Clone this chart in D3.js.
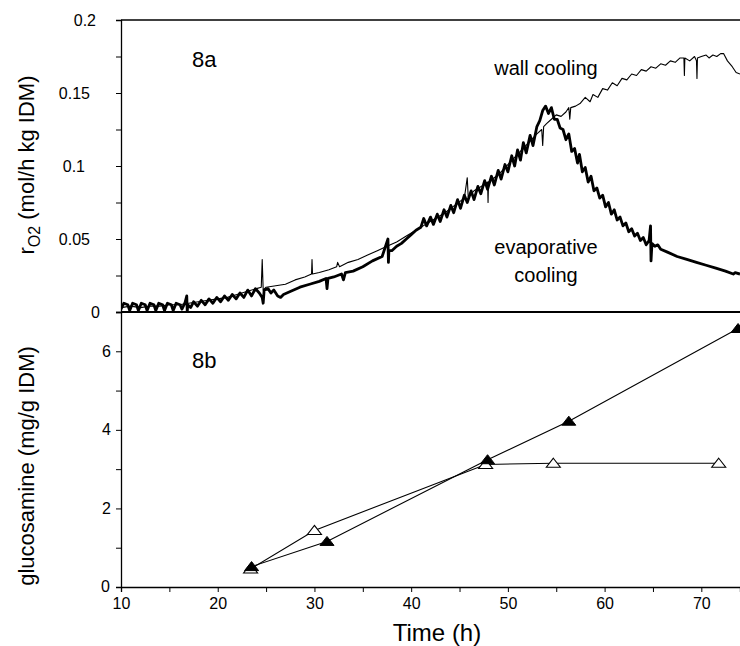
<!DOCTYPE html>
<html lang="en">
<head>
<meta charset="UTF-8">
<script src="https://cdnjs.cloudflare.com/ajax/libs/d3/7.8.5/d3.min.js"></script>
<title>rO2 and glucosamine</title>
<style>
  body { margin: 0; background: #fff; }
  svg text { font-family: Arial, "Liberation Sans", sans-serif; fill: #000; }
</style>
</head>
<body>
<div id="container"></div>
<script>
// ---------- data ----------
// oxygen uptake rate, evaporative cooling (thick line)
const evapTime = [10.0,10.3,10.7,10.9,11.2,11.6,11.8,12.1,12.5,12.7,13.0,13.4,13.6,13.9,14.3,14.5,14.8,15.2,15.4,15.7,16.1,16.3,16.6,16.8,16.85,16.9,17.2,17.5,17.9,18.3,18.7,19.1,19.5,19.9,20.3,20.7,21.1,21.5,21.9,22.3,22.7,23.1,23.5,23.9,24.3,24.6,24.7,24.8,25.2,25.5,25.8,26.2,26.5,26.8,27.5,28.5,29.5,30.5,31.2,31.3,31.4,32.0,32.8,33.0,33.2,34.0,35.0,36.0,37.0,37.6,37.65,37.7,38.0,38.5,39.0,39.5,40.0,40.5,41.0,41.3,41.6,42.0,42.3,42.7,43.0,43.4,43.7,44.1,44.4,44.8,45.1,45.5,45.8,46.2,46.5,46.9,47.2,47.6,47.9,48.3,48.6,49.0,49.3,49.7,50.0,50.4,50.7,51.0,51.3,51.6,51.9,52.3,52.6,53.0,53.3,53.6,53.9,54.2,54.5,54.8,55.1,55.4,55.7,56.0,56.3,56.6,56.9,57.2,57.4,57.7,58.0,58.3,58.6,58.9,59.2,59.5,59.8,60.1,60.4,60.7,61.0,61.3,61.6,61.9,62.2,62.5,62.8,63.1,63.4,63.7,64.0,64.3,64.6,64.75,64.8,64.9,65.2,65.5,65.8,66.5,67.5,68.5,69.5,70.5,71.5,72.5,73.3,73.5,74.0];
const evapRate = [0.002,0.006,0.005,0.001,0.006,0.005,0.001,0.006,0.005,0.001,0.006,0.005,0.001,0.006,0.005,0.001,0.006,0.005,0.001,0.006,0.005,0.002,0.006,0.011,0.000,0.005,0.003,0.007,0.004,0.008,0.005,0.009,0.006,0.010,0.007,0.011,0.008,0.012,0.009,0.013,0.010,0.015,0.011,0.016,0.013,0.010,0.006,0.015,0.016,0.013,0.015,0.011,0.010,0.012,0.014,0.017,0.019,0.021,0.023,0.016,0.023,0.024,0.026,0.022,0.027,0.028,0.031,0.035,0.038,0.050,0.034,0.042,0.042,0.045,0.047,0.050,0.053,0.056,0.058,0.064,0.059,0.065,0.060,0.067,0.062,0.070,0.065,0.073,0.068,0.077,0.071,0.080,0.075,0.083,0.077,0.086,0.081,0.090,0.084,0.093,0.087,0.097,0.091,0.101,0.096,0.107,0.100,0.111,0.104,0.116,0.109,0.121,0.114,0.127,0.131,0.138,0.141,0.136,0.140,0.132,0.132,0.126,0.125,0.118,0.122,0.110,0.112,0.102,0.108,0.096,0.099,0.089,0.093,0.083,0.085,0.078,0.080,0.072,0.075,0.067,0.070,0.063,0.065,0.059,0.061,0.055,0.057,0.052,0.054,0.049,0.051,0.046,0.049,0.059,0.035,0.047,0.045,0.046,0.043,0.041,0.038,0.036,0.034,0.032,0.030,0.028,0.026,0.027,0.026];

// oxygen uptake rate, wall cooling (thin line)
const wallTime = [10.0,11.0,12.0,13.0,14.0,15.0,16.0,17.0,18.0,19.0,20.0,21.0,22.0,23.0,24.0,24.5,24.6,24.7,25.0,26.0,27.0,28.0,29.0,29.7,29.75,29.8,30.5,31.5,32.3,32.4,32.6,33.5,34.5,35.5,36.5,37.5,38.5,39.5,40.5,41.5,42.5,43.5,44.5,45.5,45.8,45.9,46.5,47.5,47.9,47.95,48.0,49.0,50.0,51.0,52.0,53.0,53.5,53.6,53.7,54.0,54.5,55.0,55.5,56.0,56.3,56.4,56.5,57.0,57.5,58.0,58.5,58.8,59.3,59.8,60.3,60.8,61.3,61.8,62.3,62.8,63.3,63.8,64.3,64.8,65.3,65.8,66.3,66.8,67.3,67.8,68.2,68.25,68.3,68.8,69.3,69.5,69.55,69.6,70.0,70.5,70.8,71.2,71.6,72.0,72.3,72.7,73.2,73.6,74.0];
const wallRate = [0.003,0.004,0.003,0.004,0.004,0.005,0.005,0.006,0.007,0.008,0.009,0.010,0.012,0.014,0.016,0.017,0.036,0.015,0.017,0.018,0.019,0.022,0.024,0.026,0.036,0.026,0.027,0.029,0.031,0.034,0.031,0.034,0.036,0.039,0.042,0.045,0.048,0.052,0.056,0.060,0.064,0.068,0.073,0.078,0.092,0.079,0.083,0.087,0.089,0.075,0.089,0.094,0.101,0.108,0.115,0.122,0.125,0.114,0.127,0.129,0.132,0.135,0.134,0.137,0.140,0.132,0.140,0.141,0.143,0.147,0.144,0.149,0.147,0.153,0.152,0.157,0.155,0.160,0.159,0.163,0.162,0.166,0.165,0.168,0.167,0.170,0.169,0.172,0.171,0.174,0.174,0.162,0.174,0.172,0.175,0.172,0.160,0.174,0.175,0.176,0.174,0.176,0.175,0.177,0.177,0.172,0.168,0.164,0.163];

// glucosamine, evaporative cooling (filled triangles)
const glcEvapTime = [23.5, 31.3, 47.9, 56.3, 73.8];
const glcEvapVal  = [0.52, 1.16, 3.24, 4.22, 6.58];
// glucosamine, wall cooling (open triangles)
const glcWallTime = [23.4, 30.0, 47.7, 54.7, 71.8];
const glcWallVal  = [0.46, 1.44, 3.12, 3.15, 3.15];

// axis ticks
const xTicks = [10, 20, 30, 40, 50, 60, 70];
const xMinor = [15, 25, 35, 45, 55, 65];
const rTicks = [0, 0.05, 0.1, 0.15, 0.2];
const rMinor = [0.025, 0.075, 0.125, 0.175];
const gTicks = [2, 4, 6];
const gMinor = [1, 3, 5];

// ---------- layout ----------
const W = 740, H = 646;
const left = 121, right = 740;
const topA = 20, botA = 312;   // panel 8a
const topB = 312, botB = 587;  // panel 8b
const tickFont = "16px";

const svg = d3.select("#container").append("svg")
    .attr("width", W).attr("height", H);

const x = d3.scaleLinear().domain([10, 74]).range([left, right]);
const yA = d3.scaleLinear().domain([0, 0.2]).range([botA, topA]);
const yB = d3.scaleLinear().domain([0, 7]).range([botB, topB]);

svg.append("clipPath").attr("id", "clipA")
  .append("rect").attr("x", left).attr("y", topA).attr("width", right - left).attr("height", botA - topA);

// ---------- panel a ----------
const lineA = d3.line().x(d => x(d[0])).y(d => yA(d[1]));
const gA = svg.append("g").attr("clip-path", "url(#clipA)");

gA.append("path")
    .datum(wallTime.map((t, i) => [t, wallRate[i]]))
    .attr("d", lineA)
    .attr("fill", "none").attr("stroke", "#000").attr("stroke-width", 1.1)
    .attr("stroke-linejoin", "round");

gA.append("path")
    .datum(evapTime.map((t, i) => [t, evapRate[i]]))
    .attr("d", lineA)
    .attr("fill", "none").attr("stroke", "#000").attr("stroke-width", 2.8)
    .attr("stroke-linejoin", "round");

svg.append("line").attr("x1", left).attr("x2", right).attr("y1", topA).attr("y2", topA)
    .attr("stroke", "#000").attr("stroke-width", 1.3);

const axA = svg.append("g").attr("transform", `translate(${left},0)`)
    .call(d3.axisLeft(yA).tickValues(rTicks).tickSize(5).tickFormat(d => d === 0 ? "0" : d3.format("")(d)).tickPadding(26));
axA.select(".domain").attr("stroke-width", 1.3);
axA.selectAll("text").style("font-size", tickFont);
axA.selectAll(".tick").filter(d => d === 0).select("text").attr("x", -21);
axA.selectAll(".tick").filter(d => d === 0.2).select("text").attr("x", -25);
axA.selectAll(".tick").filter(d => d === 0.1).select("text").attr("x", -36);

svg.append("g").attr("transform", `translate(${left},0)`)
    .call(d3.axisLeft(yA).tickValues(rMinor).tickSize(5).tickFormat(""))
    .select(".domain").remove();

// ---------- panel b ----------
const lineB = d3.line().x(d => x(d[0])).y(d => yB(d[1]));
const triPath = "M0,-5L7,4L-7,4Z";

const wallPts = glcWallTime.map((t, i) => [t, glcWallVal[i]]);
const evapPts = glcEvapTime.map((t, i) => [t, glcEvapVal[i]]);

svg.append("path").datum(wallPts).attr("d", lineB)
    .attr("fill", "none").attr("stroke", "#000").attr("stroke-width", 1.1);
svg.append("path").datum(evapPts).attr("d", lineB)
    .attr("fill", "none").attr("stroke", "#000").attr("stroke-width", 1.1);

svg.selectAll(".openTri").data(wallPts).enter().append("path")
    .attr("class", "openTri")
    .attr("transform", d => `translate(${x(d[0])},${yB(d[1])})`)
    .attr("d", triPath)
    .attr("fill", "#fff").attr("stroke", "#000").attr("stroke-width", 1.1);

svg.selectAll(".fillTri").data(evapPts).enter().append("path")
    .attr("class", "fillTri")
    .attr("transform", d => `translate(${x(d[0])},${yB(d[1])})`)
    .attr("d", triPath)
    .attr("fill", "#000").attr("stroke", "#000").attr("stroke-width", 1);

svg.append("line").attr("x1", left).attr("x2", right).attr("y1", topB).attr("y2", topB)
    .attr("stroke", "#000").attr("stroke-width", 2);

const axB = svg.append("g").attr("transform", `translate(${left},0)`)
    .call(d3.axisLeft(yB).tickValues(gTicks).tickSize(5).tickPadding(5).tickFormat(d3.format("d")));
axB.select(".domain").attr("stroke-width", 1.3);
axB.selectAll("text").style("font-size", tickFont);

svg.append("g").attr("transform", `translate(${left},0)`)
    .call(d3.axisLeft(yB).tickValues(gMinor).tickSize(5).tickFormat(""))
    .select(".domain").remove();

// zero of the lower panel, next to the axis corner
svg.append("text").attr("x", 110).attr("y", yB(0) + 5).attr("text-anchor", "end")
    .style("font-size", tickFont).text("0");

const axX = svg.append("g").attr("transform", `translate(0,${botB})`)
    .call(d3.axisBottom(x).tickValues(xTicks).tickSize(5).tickPadding(6));
axX.select(".domain").attr("stroke-width", 1.3);
axX.selectAll("text").style("font-size", tickFont);

svg.append("g").attr("transform", `translate(0,${botB})`)
    .call(d3.axisBottom(x).tickValues(xMinor).tickSize(5).tickFormat(""))
    .select(".domain").remove();

// ---------- labels ----------
svg.append("text").attr("x", 437).attr("y", 641).attr("text-anchor", "middle")
    .style("font-size", "24px").text("Time (h)");

const yLabA = svg.append("text")
    .attr("transform", `translate(34,165) rotate(-90)`)
    .attr("text-anchor", "middle").style("font-size", "22px");
yLabA.append("tspan").text("r");
yLabA.append("tspan").attr("dy", 6).style("font-size", "16px").text("O2");
yLabA.append("tspan").attr("dy", -6).text(" (mol/h kg IDM)");

svg.append("text")
    .attr("transform", `translate(34,466) rotate(-90)`)
    .attr("text-anchor", "middle").style("font-size", "22px")
    .text("glucosamine (mg/g IDM)");

svg.append("text").attr("x", 192).attr("y", 67).style("font-size", "22px").text("8a");
svg.append("text").attr("x", 192).attr("y", 368).style("font-size", "22px").text("8b");

svg.append("text").attr("x", 546).attr("y", 75).attr("text-anchor", "middle")
    .style("font-size", "20px").text("wall cooling");
svg.append("text").attr("x", 546).attr("y", 254).attr("text-anchor", "middle")
    .style("font-size", "20px").text("evaporative");
svg.append("text").attr("x", 546).attr("y", 282).attr("text-anchor", "middle")
    .style("font-size", "20px").text("cooling");
</script>
</body>
</html>
